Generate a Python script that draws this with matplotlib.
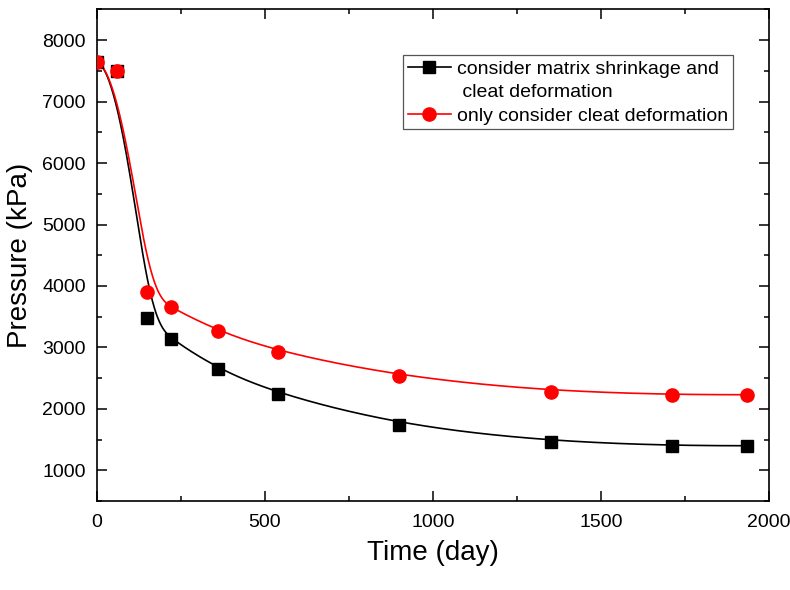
import numpy as np
import matplotlib.pyplot as plt
from matplotlib.lines import Line2D

plt.rcParams['font.family'] = ['Liberation Sans', 'DejaVu Sans']

# time (day) and pressure (kPa)
days = [0, 60, 150, 220, 360, 540, 900, 1350, 1710, 1935]
p_both = [7650, 7500, 3480, 3140, 2650, 2240, 1740, 1460, 1400, 1400]
p_cleat = [7650, 7500, 3900, 3650, 3270, 2930, 2530, 2280, 2230, 2230]

label_both = ['consider matrix shrinkage and', ' cleat deformation']
label_cleat = 'only consider cleat deformation'


def bspline(xs, ys, k=3, n=500):
    # clamped uniform B-spline, data used as control points
    xs = np.asarray(xs, float)
    ys = np.asarray(ys, float)
    m = len(xs)
    t = np.concatenate([np.zeros(k), np.linspace(0, 1, m - k + 1), np.ones(k)])
    u = np.linspace(0, 1 - 1e-9, n)
    N = np.zeros((n, len(t) - 1))
    for i in range(len(t) - 1):
        N[:, i] = (t[i] <= u) & (u < t[i + 1])
    for d in range(1, k + 1):
        newN = np.zeros((n, len(t) - 1 - d))
        for i in range(len(t) - 1 - d):
            a = t[i + d] - t[i]
            b = t[i + d + 1] - t[i + 1]
            if a > 0:
                newN[:, i] += (u - t[i]) / a * N[:, i]
            if b > 0:
                newN[:, i] += (t[i + d + 1] - u) / b * N[:, i + 1]
        N = newN
    return N @ xs, N @ ys


fig = plt.figure(figsize=(7.9, 5.9), dpi=100)
ax = fig.add_axes([0.1228, 0.1508, 0.8506, 0.8331])

bx, by = bspline(days, p_both)
rx, ry = bspline(days, p_cleat)
ax.plot(bx, by, color='black', lw=1.2, zorder=2)
ax.plot(rx, ry, color='red', lw=1.2, zorder=2)
ax.plot(days, p_both, 's', color='black', ms=8.5, ls='none', zorder=3)
ax.plot(days, p_cleat, 'o', color='red', ms=9.5, ls='none', zorder=4)

ax.set_xlim(0, 2000)
ax.set_ylim(500, 8500)
ax.set_xticks(np.arange(0, 2001, 500))
ax.set_xticks(np.arange(0, 2001, 250), minor=True)
ax.set_yticks(np.arange(1000, 8001, 1000))
ax.set_yticks(np.arange(500, 8501, 500), minor=True)
ax.tick_params(which='both', direction='in', top=True, right=True,
               width=1.1, labelsize=14, colors='black')
ax.tick_params(which='major', length=7)
ax.tick_params(which='minor', length=3.8)
ax.tick_params(axis='x', pad=9)
ax.tick_params(axis='y', pad=8)
for s in ax.spines.values():
    s.set_linewidth(1.2)

ax.set_xlabel('Time (day)', fontsize=20, labelpad=7)
ax.set_ylabel('Pressure (kPa)', fontsize=20, labelpad=7)

handles = [
    Line2D([], [], color='black', lw=1.2, marker='s', ms=8.5),
    Line2D([], [], color='none', lw=0),
    Line2D([], [], color='red', lw=1.2, marker='o', ms=9.5),
]
leg = ax.legend(handles, label_both + [label_cleat], loc='upper right',
                bbox_to_anchor=(0.946, 0.907), borderaxespad=0,
                fontsize=14, handlelength=2.2, handletextpad=0.3,
                labelspacing=0.3, borderpad=0.25, fancybox=False,
                edgecolor='#555555', framealpha=1)
leg.get_frame().set_linewidth(0.9)

fig.savefig('out.png', dpi=100)
